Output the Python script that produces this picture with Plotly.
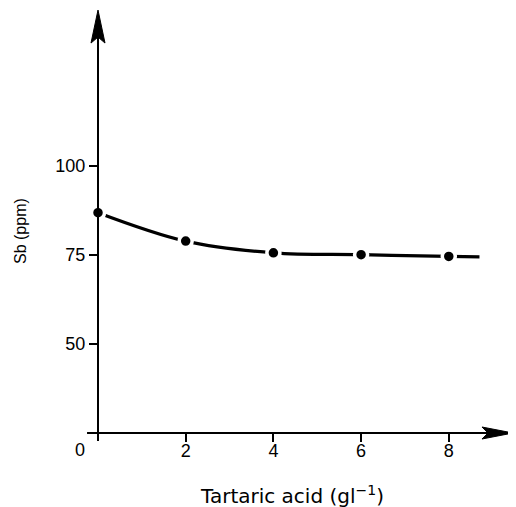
import plotly.graph_objects as go

# ---- data ----
tartaric = [0, 2, 4, 6, 8]                 # g l^-1
sb_ppm = [86.9, 78.9, 75.6, 75.1, 74.6]    # ppm
curve_x = [0, 2, 4, 6, 8, 8.7]             # hand-drawn curve through the points
curve_y = [86.9, 78.9, 75.6, 75.1, 74.6, 74.5]
x_ticks = [2, 4, 6, 8]
y_ticks = [50, 75, 100]
y_tick_text = ["50", "75", "100"]

# ---- layout constants (page has an 8px body margin) ----
OFF = 8
W, H = 516 - OFF, 507 - OFF
ML, MR, MT, MB = 80 - OFF, 0, 0, H - (460 - OFF)
PW, PH = W - ML - MR, H - MT - MB
X_RANGE = [-0.4105, 9.533]
Y_RANGE = [17.42, 144.38]
X_AXIS_Y = 25          # value where the x axis crosses
Y_AXIS_X = 0           # value where the y axis crosses
X_LINE = [-0.25, 9.30]
X_TIP = 9.464
Y_LINE = [22.75, 140.0]
Y_TIP = 143.8

FONT = "DejaVu Sans"
TFONT = "Liberation Sans"
INK = "black"


def px(page_x):
    return (page_x - OFF - ML) / PW


def py(page_y):
    return ((H - MB) - (page_y - OFF)) / PH


fig = go.Figure()
fig.add_trace(go.Scatter(
    x=curve_x, y=curve_y, mode="lines",
    line=dict(color=INK, width=3.2, shape="spline", smoothing=1.0),
    hoverinfo="skip", showlegend=False))
fig.add_trace(go.Scatter(
    x=tartaric, y=sb_ppm, mode="markers",
    marker=dict(color=INK, size=13, line=dict(color="white", width=3.5)),
    showlegend=False))

xpos = (X_AXIS_Y - Y_RANGE[0]) / (Y_RANGE[1] - Y_RANGE[0])
ypos = (Y_AXIS_X - X_RANGE[0]) / (X_RANGE[1] - X_RANGE[0])

shapes = [
    dict(type="line", xref="x", yref="y", x0=X_LINE[0], x1=X_LINE[1],
         y0=X_AXIS_Y, y1=X_AXIS_Y, line=dict(color=INK, width=2), layer="above"),
    dict(type="line", xref="x", yref="y", x0=Y_AXIS_X, x1=Y_AXIS_X,
         y0=Y_LINE[0], y1=Y_LINE[1], line=dict(color=INK, width=2), layer="above"),
    dict(type="path", xref="x", yref="y", xsizemode="pixel", ysizemode="pixel",
         xanchor=X_TIP, yanchor=X_AXIS_Y,
         path="M0,0 L-31,6 L-25,0 L-31,-6 Z",
         fillcolor=INK, line=dict(color=INK, width=1), layer="above"),
    dict(type="path", xref="x", yref="y", xsizemode="pixel", ysizemode="pixel",
         xanchor=Y_AXIS_X, yanchor=Y_TIP,
         path="M0,0 L-7,-33 L0,-27 L7,-33 Z",
         fillcolor=INK, line=dict(color=INK, width=1), layer="above"),
]

annotations = [
    dict(text="0", xref="paper", yref="paper", x=px(80), y=py(450),
         xanchor="center", yanchor="middle",
         showarrow=False, font=dict(family=TFONT, size=18, color=INK)),
    dict(text="Tartaric acid (gl<sup>−1</sup>)", xref="paper", yref="paper",
         x=px(292), y=py(495),
         xanchor="center", yanchor="middle", showarrow=False,
         font=dict(family=FONT, size=20, color=INK)),
    dict(text="Sb (ppm)", xref="paper", yref="paper", textangle=-90,
         x=px(20), y=py(231),
         xanchor="center", yanchor="middle", showarrow=False,
         font=dict(family=TFONT, size=16, color=INK)),
]

fig.update_layout(
    width=W, height=H,
    margin=dict(l=ML, r=MR, t=MT, b=MB, pad=0, autoexpand=False),
    paper_bgcolor="white", plot_bgcolor="white",
    shapes=shapes, annotations=annotations,
    xaxis=dict(range=X_RANGE, anchor="free", position=xpos, showline=False,
               showgrid=False, zeroline=False, tickmode="array", tickvals=x_ticks,
               ticks="outside", ticklen=8, tickwidth=2, tickcolor=INK,
               ticklabelstandoff=-7,
               tickfont=dict(family=TFONT, size=18, color=INK)),
    yaxis=dict(range=Y_RANGE, anchor="free", position=ypos, showline=False,
               showgrid=False, zeroline=False, tickmode="array", tickvals=y_ticks,
               ticktext=y_tick_text,
               ticks="outside", ticklen=9, tickwidth=2, tickcolor=INK,
               tickfont=dict(family=TFONT, size=18, color=INK)),
)

fig.write_html("out.html")
